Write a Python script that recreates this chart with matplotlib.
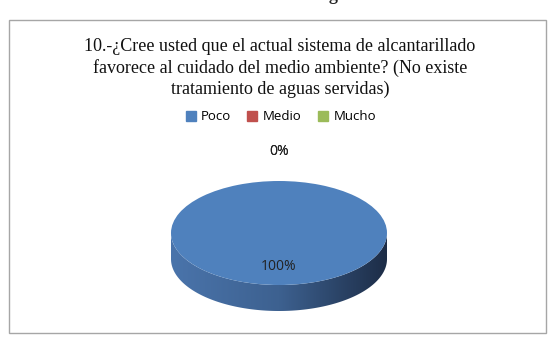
#!/usr/bin/env python3
# -*- coding: utf-8 -*-

import numpy as np
import matplotlib
matplotlib.use("Agg")
import matplotlib.pyplot as plt
from matplotlib.patches import Rectangle, Polygon
from matplotlib.lines import Line2D
from matplotlib.colors import LinearSegmentedColormap

# data
categories = ["Poco", "Medio", "Mucho"]
values = [100, 0, 0]
colors = ["#4f81bd", "#c0504d", "#9bbb59"]
title = ("10.-¿Cree usted que el actual sistema de alcantarillado\n"
         "favorece al cuidado del medio ambiente? (No existe\n"
         "tratamiento de aguas servidas)")
caption = "Gráfico 10 Resultados Pregunta 10"

W, H = 556, 345
fig = plt.figure(figsize=(W / 100, H / 100), dpi=100)


def px(x, y):
    # pixel (from top-left) to figure fraction
    return x / W, 1 - y / H


# chart frame
x0, y0 = px(9, 333)
fig.patches.append(Rectangle((x0, y0), 537 / W, 313 / H, transform=fig.transFigure,
                             fill=False, edgecolor="#a6a6a6", linewidth=1.0))

# caption above frame, mostly cut off by the image edge (as in the source)
fig.text(*px(262, -4), caption, ha="center", va="center", fontsize=13,
         family="Liberation Serif", fontweight="bold", color="#222222")

fig.text(*px(280, 68), title, ha="center", va="center", fontsize=13,
         family="Liberation Serif", linespacing=1.3, color="#111111")

handles = [Line2D([], [], marker="s", linestyle="none", markersize=6.5,
                  markerfacecolor=c, markeredgecolor=c) for c in colors]
fig.legend(handles, categories, loc="center", bbox_to_anchor=px(280, 117), ncol=3,
           frameon=False, handletextpad=0.3, columnspacing=1.1,
           handlelength=1.0, prop={"family": "Open Sans", "size": 9.5})

# pie axes: top ellipse 216 x 104 px, side depth 26 px
depth = 0.5
cx, cy, rx, ry = 279, 233, 108, 52
ax_l, ax_t = cx - rx, cy - ry
ax_w, ax_h = 2 * rx, 2 * ry + depth * ry
ax = fig.add_axes([ax_l / W, 1 - (ax_t + ax_h) / H, ax_w / W, ax_h / H])

total = sum(values)
ax.pie(values, colors=colors, startangle=90, counterclock=False, radius=1,
       wedgeprops={"linewidth": 0})
ax.set_aspect("auto")

# side of the disc with left-to-right gradient
t = np.linspace(np.pi, 2 * np.pi, 200)
xs, ys = np.cos(t), np.sin(t)
side = np.concatenate([np.column_stack([xs, ys - depth]),
                       np.column_stack([xs[::-1], ys[::-1]])])
poly = Polygon(side, closed=True, facecolor="none", edgecolor="none")
ax.add_patch(poly)
cmap = LinearSegmentedColormap.from_list("side", ["#4a74ab", "#3d6190", "#1d2d47"])
grad = np.linspace(0, 1, 256).reshape(1, -1)
im = ax.imshow(grad, cmap=cmap, extent=[-1, 1, -1 - depth, 0], aspect="auto", zorder=0)
im.set_clip_path(poly)
ax.set_xlim(-1, 1)
ax.set_ylim(-1 - depth, 1)
ax.axis("off")

# data labels
for v in values:
    lab = f"{v / total:.0%}"
    if v > 0:
        ax.text(0, -0.65, lab, ha="center", va="center", fontsize=10,
                family="Open Sans", color="#222222")
    else:
        ax.text(0, 1.56, lab, ha="center", va="center", fontsize=10,
                family="Open Sans", color="#222222", clip_on=False)

fig.savefig("out.png", dpi=100, facecolor="white")
